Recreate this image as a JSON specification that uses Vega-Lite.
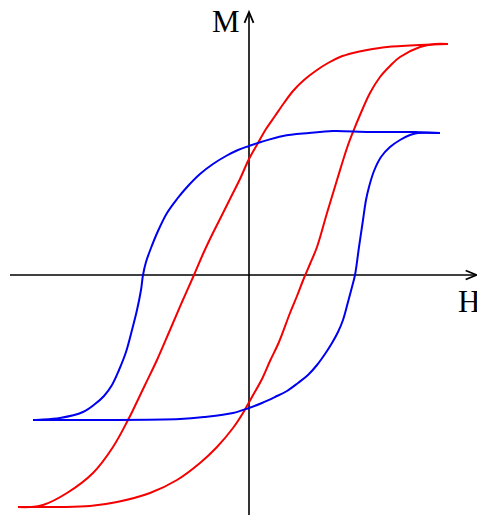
{
  "$schema": "https://vega.github.io/schema/vega-lite/v6.json",
  "width": 477,
  "height": 515,
  "padding": 0,
  "autosize": {"type": "none"},
  "background": "white",
  "config": {"view": {"stroke": null}},
  "datasets": {
    "loops": [
      {"loop": "red", "branch": "down", "i": 1, "H": 199, "M": 231},
      {"loop": "red", "branch": "down", "i": 2, "H": 171, "M": 230},
      {"loop": "red", "branch": "down", "i": 3, "H": 138, "M": 228},
      {"loop": "red", "branch": "down", "i": 4, "H": 118, "M": 225},
      {"loop": "red", "branch": "down", "i": 5, "H": 104, "M": 222},
      {"loop": "red", "branch": "down", "i": 6, "H": 91, "M": 218},
      {"loop": "red", "branch": "down", "i": 7, "H": 79, "M": 212},
      {"loop": "red", "branch": "down", "i": 8, "H": 68, "M": 205},
      {"loop": "red", "branch": "down", "i": 9, "H": 55, "M": 195},
      {"loop": "red", "branch": "down", "i": 10, "H": 44, "M": 184},
      {"loop": "red", "branch": "down", "i": 11, "H": 35, "M": 172},
      {"loop": "red", "branch": "down", "i": 12, "H": 26, "M": 159},
      {"loop": "red", "branch": "down", "i": 13, "H": 17, "M": 146},
      {"loop": "red", "branch": "down", "i": 14, "H": 9, "M": 132},
      {"loop": "red", "branch": "down", "i": 15, "H": 0, "M": 116},
      {"loop": "red", "branch": "down", "i": 16, "H": -9, "M": 96},
      {"loop": "red", "branch": "down", "i": 17, "H": -19, "M": 76},
      {"loop": "red", "branch": "down", "i": 18, "H": -29, "M": 56},
      {"loop": "red", "branch": "down", "i": 19, "H": -39, "M": 36},
      {"loop": "red", "branch": "down", "i": 20, "H": -46, "M": 21},
      {"loop": "red", "branch": "down", "i": 21, "H": -55, "M": 0},
      {"loop": "red", "branch": "down", "i": 22, "H": -67, "M": -27},
      {"loop": "red", "branch": "down", "i": 23, "H": -79, "M": -55},
      {"loop": "red", "branch": "down", "i": 24, "H": -92, "M": -85},
      {"loop": "red", "branch": "down", "i": 25, "H": -104, "M": -110},
      {"loop": "red", "branch": "down", "i": 26, "H": -115, "M": -133},
      {"loop": "red", "branch": "down", "i": 27, "H": -121, "M": -145},
      {"loop": "red", "branch": "down", "i": 28, "H": -136, "M": -172},
      {"loop": "red", "branch": "down", "i": 29, "H": -156, "M": -198},
      {"loop": "red", "branch": "down", "i": 30, "H": -182, "M": -218},
      {"loop": "red", "branch": "down", "i": 31, "H": -206, "M": -230},
      {"loop": "red", "branch": "down", "i": 32, "H": -219, "M": -232},
      {"loop": "red", "branch": "down", "i": 33, "H": -231, "M": -232},

      {"loop": "red", "branch": "up", "i": 1, "H": -231, "M": -232},
      {"loop": "red", "branch": "up", "i": 2, "H": -189, "M": -232},
      {"loop": "red", "branch": "up", "i": 3, "H": -159, "M": -231},
      {"loop": "red", "branch": "up", "i": 4, "H": -132, "M": -227},
      {"loop": "red", "branch": "up", "i": 5, "H": -99, "M": -218},
      {"loop": "red", "branch": "up", "i": 6, "H": -72, "M": -205},
      {"loop": "red", "branch": "up", "i": 7, "H": -49, "M": -188},
      {"loop": "red", "branch": "up", "i": 8, "H": -32, "M": -172},
      {"loop": "red", "branch": "up", "i": 9, "H": -16, "M": -153},
      {"loop": "red", "branch": "up", "i": 10, "H": -6, "M": -138},
      {"loop": "red", "branch": "up", "i": 11, "H": 3, "M": -122},
      {"loop": "red", "branch": "up", "i": 12, "H": 13, "M": -104},
      {"loop": "red", "branch": "up", "i": 13, "H": 21, "M": -86},
      {"loop": "red", "branch": "up", "i": 14, "H": 30, "M": -67},
      {"loop": "red", "branch": "up", "i": 15, "H": 41, "M": -38},
      {"loop": "red", "branch": "up", "i": 16, "H": 48, "M": -21},
      {"loop": "red", "branch": "up", "i": 17, "H": 55, "M": -3},
      {"loop": "red", "branch": "up", "i": 18, "H": 61, "M": 11},
      {"loop": "red", "branch": "up", "i": 19, "H": 68, "M": 28},
      {"loop": "red", "branch": "up", "i": 20, "H": 78, "M": 62},
      {"loop": "red", "branch": "up", "i": 21, "H": 88, "M": 95},
      {"loop": "red", "branch": "up", "i": 22, "H": 98, "M": 127},
      {"loop": "red", "branch": "up", "i": 23, "H": 104, "M": 143},
      {"loop": "red", "branch": "up", "i": 24, "H": 111, "M": 160},
      {"loop": "red", "branch": "up", "i": 25, "H": 121, "M": 182},
      {"loop": "red", "branch": "up", "i": 26, "H": 131, "M": 198},
      {"loop": "red", "branch": "up", "i": 27, "H": 141, "M": 209},
      {"loop": "red", "branch": "up", "i": 28, "H": 151, "M": 218},
      {"loop": "red", "branch": "up", "i": 29, "H": 171, "M": 228},
      {"loop": "red", "branch": "up", "i": 30, "H": 186, "M": 231},
      {"loop": "red", "branch": "up", "i": 31, "H": 199, "M": 231},

      {"loop": "blue", "branch": "down", "i": 1, "H": 191, "M": 142},
      {"loop": "blue", "branch": "down", "i": 2, "H": 166, "M": 143},
      {"loop": "blue", "branch": "down", "i": 3, "H": 121, "M": 143},
      {"loop": "blue", "branch": "down", "i": 4, "H": 84, "M": 144},
      {"loop": "blue", "branch": "down", "i": 5, "H": 60, "M": 142},
      {"loop": "blue", "branch": "down", "i": 6, "H": 34, "M": 139},
      {"loop": "blue", "branch": "down", "i": 7, "H": 12, "M": 133},
      {"loop": "blue", "branch": "down", "i": 8, "H": 0, "M": 129},
      {"loop": "blue", "branch": "down", "i": 9, "H": -11, "M": 125},
      {"loop": "blue", "branch": "down", "i": 10, "H": -23, "M": 119},
      {"loop": "blue", "branch": "down", "i": 11, "H": -36, "M": 111},
      {"loop": "blue", "branch": "down", "i": 12, "H": -49, "M": 101},
      {"loop": "blue", "branch": "down", "i": 13, "H": -61, "M": 89},
      {"loop": "blue", "branch": "down", "i": 14, "H": -72, "M": 76},
      {"loop": "blue", "branch": "down", "i": 15, "H": -82, "M": 62},
      {"loop": "blue", "branch": "down", "i": 16, "H": -91, "M": 44},
      {"loop": "blue", "branch": "down", "i": 17, "H": -98, "M": 27},
      {"loop": "blue", "branch": "down", "i": 18, "H": -103, "M": 13},
      {"loop": "blue", "branch": "down", "i": 19, "H": -106, "M": 0},
      {"loop": "blue", "branch": "down", "i": 20, "H": -108, "M": -15},
      {"loop": "blue", "branch": "down", "i": 21, "H": -112, "M": -35},
      {"loop": "blue", "branch": "down", "i": 22, "H": -117, "M": -55},
      {"loop": "blue", "branch": "down", "i": 23, "H": -123, "M": -77},
      {"loop": "blue", "branch": "down", "i": 24, "H": -130, "M": -95},
      {"loop": "blue", "branch": "down", "i": 25, "H": -137, "M": -110},
      {"loop": "blue", "branch": "down", "i": 26, "H": -145, "M": -121},
      {"loop": "blue", "branch": "down", "i": 27, "H": -154, "M": -129},
      {"loop": "blue", "branch": "down", "i": 28, "H": -166, "M": -137},
      {"loop": "blue", "branch": "down", "i": 29, "H": -189, "M": -143},
      {"loop": "blue", "branch": "down", "i": 30, "H": -216, "M": -145},

      {"loop": "blue", "branch": "up", "i": 1, "H": -216, "M": -145},
      {"loop": "blue", "branch": "up", "i": 2, "H": -149, "M": -145},
      {"loop": "blue", "branch": "up", "i": 3, "H": -69, "M": -144},
      {"loop": "blue", "branch": "up", "i": 4, "H": -45, "M": -142},
      {"loop": "blue", "branch": "up", "i": 5, "H": -16, "M": -138},
      {"loop": "blue", "branch": "up", "i": 6, "H": 0, "M": -133},
      {"loop": "blue", "branch": "up", "i": 7, "H": 13, "M": -128},
      {"loop": "blue", "branch": "up", "i": 8, "H": 26, "M": -122},
      {"loop": "blue", "branch": "up", "i": 9, "H": 38, "M": -116},
      {"loop": "blue", "branch": "up", "i": 10, "H": 49, "M": -108},
      {"loop": "blue", "branch": "up", "i": 11, "H": 59, "M": -100},
      {"loop": "blue", "branch": "up", "i": 12, "H": 68, "M": -90},
      {"loop": "blue", "branch": "up", "i": 13, "H": 76, "M": -79},
      {"loop": "blue", "branch": "up", "i": 14, "H": 83, "M": -68},
      {"loop": "blue", "branch": "up", "i": 15, "H": 89, "M": -57},
      {"loop": "blue", "branch": "up", "i": 16, "H": 94, "M": -45},
      {"loop": "blue", "branch": "up", "i": 17, "H": 99, "M": -27},
      {"loop": "blue", "branch": "up", "i": 18, "H": 103, "M": -12},
      {"loop": "blue", "branch": "up", "i": 19, "H": 106, "M": 0},
      {"loop": "blue", "branch": "up", "i": 20, "H": 110, "M": 28},
      {"loop": "blue", "branch": "up", "i": 21, "H": 114, "M": 55},
      {"loop": "blue", "branch": "up", "i": 22, "H": 117, "M": 75},
      {"loop": "blue", "branch": "up", "i": 23, "H": 120, "M": 88},
      {"loop": "blue", "branch": "up", "i": 24, "H": 125, "M": 104},
      {"loop": "blue", "branch": "up", "i": 25, "H": 132, "M": 118},
      {"loop": "blue", "branch": "up", "i": 26, "H": 141, "M": 128},
      {"loop": "blue", "branch": "up", "i": 27, "H": 151, "M": 135},
      {"loop": "blue", "branch": "up", "i": 28, "H": 161, "M": 140},
      {"loop": "blue", "branch": "up", "i": 29, "H": 169, "M": 142},
      {"loop": "blue", "branch": "up", "i": 30, "H": 191, "M": 142}
    ],
    "axes": [
      {"name": "H", "H": -239, "H2": 227, "M": 0, "M2": 0},
      {"name": "M", "H": 0, "H2": 0, "M": -240, "M2": 262}
    ],
    "labels": [
      {"label": "M", "H": -37, "M": 243},
      {"label": "H", "H": 209, "M": -37}
    ]
  },
  "encoding": {
    "x": {"field": "H", "type": "quantitative", "axis": null,
          "scale": {"domain": [-249, 228], "nice": false, "zero": false}},
    "y": {"field": "M", "type": "quantitative", "axis": null,
          "scale": {"domain": [-240, 275], "nice": false, "zero": false}}
  },
  "layer": [
    {
      "data": {"name": "axes"},
      "mark": {"type": "rule", "color": "black", "strokeWidth": 1.6},
      "encoding": {"x2": {"field": "H2"}, "y2": {"field": "M2"}}
    },
    {
      "data": {"values": [{"H": 0, "M": 263}]},
      "mark": {"type": "point", "shape": "M-1,2.4L0,0L1,2.4", "size": 81,
               "filled": false, "stroke": "black", "strokeWidth": 1.8, "opacity": 1}
    },
    {
      "data": {"values": [{"H": 227.5, "M": 0}]},
      "mark": {"type": "point", "shape": "M-2.4,-1L0,0L-2.4,1", "size": 81,
               "filled": false, "stroke": "black", "strokeWidth": 1.8, "opacity": 1}
    },
    {
      "data": {"name": "loops"},
      "transform": [{"calculate": "datum.loop + '-' + datum.branch", "as": "curve"}],
      "mark": {"type": "line", "strokeWidth": 2, "interpolate": "catmull-rom", "strokeJoin": "round"},
      "encoding": {
        "detail": {"field": "curve"},
        "order": {"field": "i", "type": "quantitative"},
        "color": {"field": "loop", "type": "nominal", "legend": null,
                  "scale": {"domain": ["red", "blue"], "range": ["#f50000", "#0000f0"]}}
      }
    },
    {
      "data": {"name": "labels"},
      "mark": {"type": "text", "font": "Liberation Serif", "fontSize": 31,
               "align": "left", "baseline": "alphabetic", "color": "black"},
      "encoding": {"text": {"field": "label"}}
    }
  ]
}
